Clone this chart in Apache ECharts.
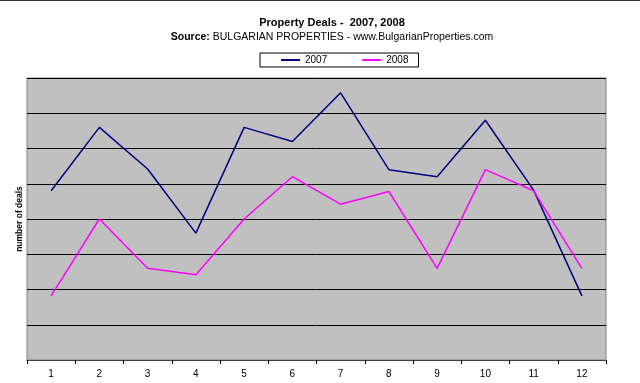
<!DOCTYPE html>
<html>
<head>
<meta charset="utf-8">
<script src="https://cdn.jsdelivr.net/npm/echarts@6/dist/echarts.min.js"></script>
<style>
html,body{margin:0;padding:0;background:#fff;}
#c{width:640px;height:383px;}
</style>
</head>
<body>
<div id="c"></div>
<script>
var months = ['1','2','3','4','5','6','7','8','9','10','11','12'];
var deals2007 = [240, 330, 271, 180, 330, 310, 379, 270, 260, 340, 241, 91];
var deals2008 = [91, 200, 130, 121, 200, 260, 221, 239, 130, 270, 240, 130];
var seriesNames = ['2007', '2008'];
var yMin = 0, yMax = 400, yStep = 50;

var chart = echarts.init(document.getElementById('c'), null, {renderer: 'canvas'});
var font = 'Arial, "Liberation Sans", sans-serif';
chart.setOption({
  animation: false,
  backgroundColor: '#ffffff',
  textStyle: {fontFamily: font},
  graphic: [
    {type: 'line', shape: {x1: 0, y1: 0.5, x2: 640, y2: 0.5}, style: {stroke: '#333', lineWidth: 1}},
    {type: 'text', x: 332, y: 23, style: {text: 'Property Deals -  2007, 2008', font: 'bold 11px ' + font, fill: '#000', textAlign: 'center', textVerticalAlign: 'middle'}},
    {type: 'text', x: 332, y: 37, style: {
      text: '{b|Source:} BULGARIAN PROPERTIES - www.BulgarianProperties.com',
      font: '10.5px ' + font, fill: '#000', textAlign: 'center', textVerticalAlign: 'middle',
      rich: {b: {fontWeight: 'bold', fontSize: 10.5, fontFamily: font, fill: '#000'}}
    }}
  ],
  legend: {
    data: seriesNames,
    left: 260, top: 53,
    orient: 'horizontal',
    borderColor: '#000', borderWidth: 1,
    padding: [2, 10, 2, 20],
    itemWidth: 19, itemHeight: 2,
    itemGap: 34,
    textStyle: {fontSize: 10, color: '#000', fontFamily: font}
  },
  grid: {
    left: 27, right: 34, top: 78, bottom: 23,
    show: true, backgroundColor: '#C0C0C0', borderColor: '#808080', borderWidth: 1
  },
  xAxis: {
    type: 'category', data: months, boundaryGap: true,
    axisLine: {lineStyle: {color: '#404040', width: 1}},
    axisTick: {show: true, alignWithLabel: false, length: 4, lineStyle: {color: '#000'}},
    axisLabel: {fontSize: 10, color: '#000', margin: 9, fontFamily: font}
  },
  yAxis: {
    type: 'value', min: yMin, max: yMax, interval: yStep,
    name: 'number of deals', nameLocation: 'middle', nameGap: 3, nameRotate: 90,
    nameTextStyle: {fontSize: 8.5, fontWeight: 'bold', color: '#000', fontFamily: font},
    axisLine: {show: false}, axisTick: {show: false}, axisLabel: {show: false},
    splitLine: {show: true, lineStyle: {color: '#000', width: 1}}
  },
  series: [
    {name: seriesNames[0], type: 'line', data: deals2007, symbol: 'none', lineStyle: {color: '#000080', width: 1.5}, itemStyle: {color: '#000080'}},
    {name: seriesNames[1], type: 'line', data: deals2008, symbol: 'none', lineStyle: {color: '#FF00FF', width: 1.5}, itemStyle: {color: '#FF00FF'}}
  ]
});
</script>
</body>
</html>
